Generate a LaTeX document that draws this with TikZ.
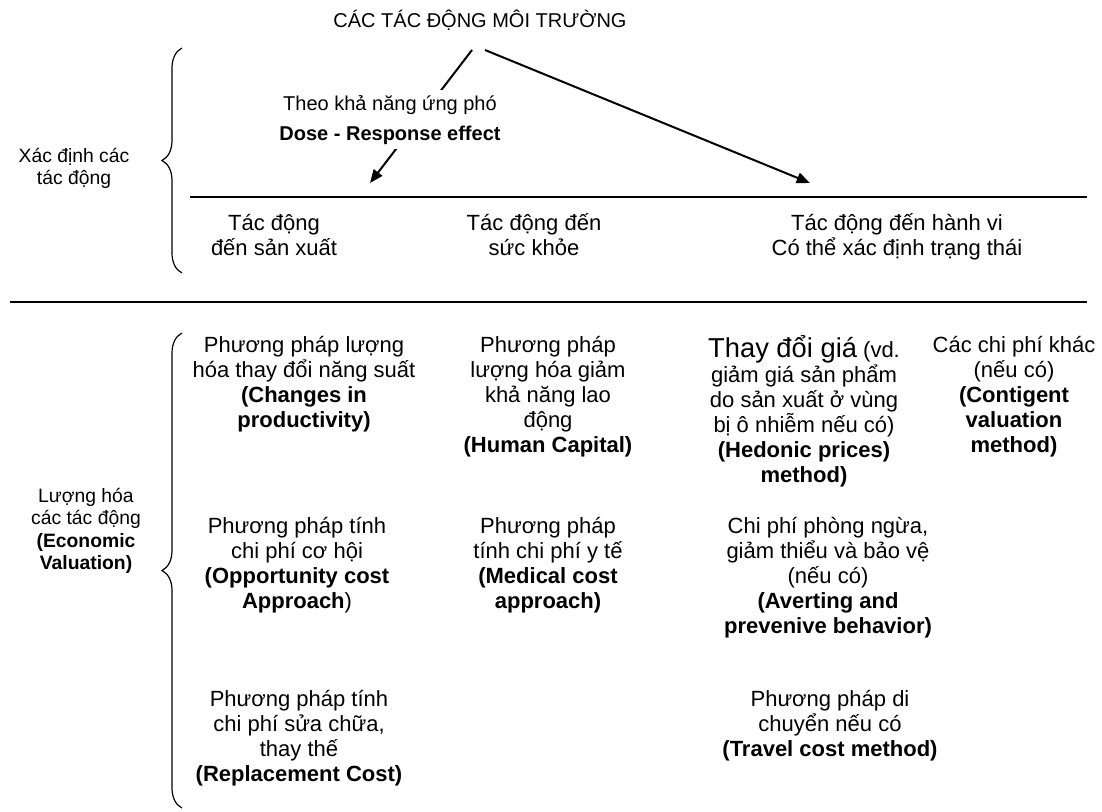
\documentclass[tikz,border=0pt]{standalone}
\usepackage{fontspec}
\setmainfont{Liberation Sans}
\usetikzlibrary{arrows.meta,decorations.pathreplacing}
\newcommand\bodysize{\fontsize{16.5}{18.75}\selectfont}
\newcommand\sidesize{\fontsize{14.5}{16.8}\selectfont}
\newcommand\headsize{\fontsize{15}{17}\selectfont}
\newcommand\bigword{\fontsize{20.5}{18.75}\selectfont}
\newcommand\firstline{\rule{0pt}{.94em}}

\begin{document}
\begin{tikzpicture}[x=0.75pt,y=-0.75pt,
  txt/.style={font=\bodysize, align=center, inner sep=0pt, anchor=north,
              execute at begin node=\firstline},
  sidetxt/.style={txt, font=\sidesize},
  rule/.style={line width=1.5pt},
  arr/.style={line width=1.5pt, -{Triangle[length=10pt,width=8pt]}},
  curly/.style={line width=0.9pt, decorate, decoration={brace, amplitude=15pt}}]
\useasboundingbox (0,0) rectangle (1102,811);

% title and the two effect arrows
\node[font=\headsize, inner sep=0pt] (title) at (480,20) {CÁC TÁC ĐỘNG MÔI TRƯỜNG};
\coordinate (s1) at (472,50);
\coordinate (s2) at (485,50);
\coordinate (t1) at (370,183);
\coordinate (t2) at (810,183);
\draw[arr] (s1) -- (t1);
\draw[arr] (s2) -- (t2);
% the dose-response label sits on the left arrow and masks it
\node[font=\headsize, align=center, inner xsep=2pt, inner ysep=4pt, anchor=north,
      fill=white, execute at begin node=\firstline]
  (lbl) at (390,89.5) {Theo khả năng ứng phó\\[5.5pt]\textbf{Dose - Response effect}};

% separating rules
\draw[rule] (190,197) -- (1087,197);
\draw[rule] (10,302) -- (1087,302);

% upper part: identifying the effects
\draw[curly] (182,273) -- (182,48);
\node[sidetxt] (ident) at (74,148) {Xác định các\\tác động};
\node[txt] (prod) at (274,213.6) {Tác động\\đến sản xuất};
\node[txt] (health) at (534,213.6) {Tác động đến\\sức khỏe};
\node[txt] (behav) at (897,213.6) {Tác động đến hành vi\\Có thể xác định trạng thái};

% lower part: economic valuation
\draw[curly] (182,808) -- (182,333);
\node[sidetxt] (valu) at (86,488) {Lượng hóa\\các tác động\\\textbf{(Economic}\\\textbf{Valuation)}};

\node[txt] (cip) at (304,335.6) {Phương pháp lượng\\hóa thay đổi năng suất\\\textbf{(Changes in}\\\textbf{productivity)}};
\node[txt] (hc) at (548,335.6) {Phương pháp\\lượng hóa giảm\\khả năng lao\\động\\\textbf{(Human Capital)}};
\node[txt] (hed) at (804,335.6) {{\bigword Thay đổi giá} (vd.\\giảm giá sản phẩm\\do sản xuất ở vùng\\bị ô nhiễm nếu có)\\\textbf{(Hedonic prices)}\\\textbf{method)}};
\node[txt] (cv) at (1014,335.6) {Các chi phí khác\\(nếu có)\\\textbf{(Contigent}\\\textbf{valuation}\\\textbf{method)}};

\node[txt] (opp) at (297,516.6) {Phương pháp tính\\chi phí cơ hội\\\textbf{(Opportunity cost}\\\textbf{Approach})};
\node[txt] (med) at (548,516.6) {Phương pháp\\tính chi phí y tế\\\textbf{(Medical cost}\\\textbf{approach)}};
\node[txt] (avert) at (828,516.6) {Chi phí phòng ngừa,\\giảm thiểu và bảo vệ\\(nếu có)\\\textbf{(Averting and}\\\textbf{prevenive behavior)}};

\node[txt] (repl) at (299,689.6) {Phương pháp tính\\chi phí sửa chữa,\\thay thế\\\textbf{(Replacement Cost)}};
\node[txt] (travel) at (830,689.6) {Phương pháp di\\chuyển nếu có\\\textbf{(Travel cost method)}};
\end{tikzpicture}
\end{document}
